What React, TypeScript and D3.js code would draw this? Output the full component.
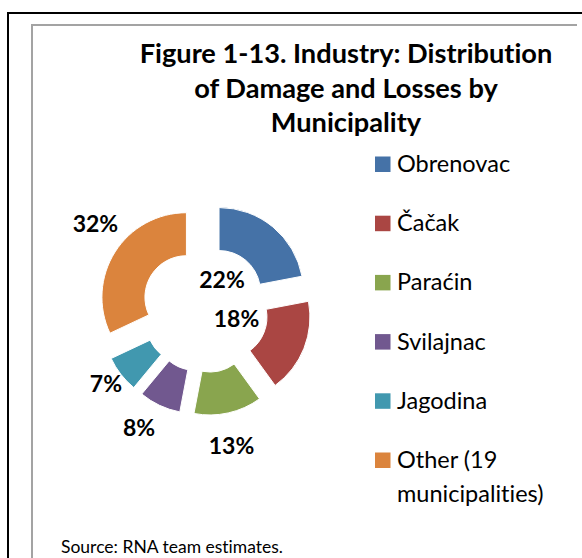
import React from "react";
import * as d3 from "d3";

const categories = ["Obrenovac", "Čačak", "Paraćin", "Svilajnac", "Jagodina", "Other (19 municipalities)"];
const shares = [22, 18, 13, 8, 7, 32];
const percentLabels = ["22%", "18%", "13%", "8%", "7%", "32%"];
const colors = ["#4572A7", "#AA4643", "#89A54E", "#71588F", "#4198AF", "#DB843D"];
const legendLines = [["Obrenovac"], ["Čačak"], ["Paraćin"], ["Svilajnac"], ["Jagodina"], ["Other (19", "municipalities)"]];
const titleLines = ["Figure 1-13. Industry: Distribution", "of Damage and Losses by", "Municipality"];
const sourceText = "Source: RNA team estimates.";

// label placement in polar coords relative to pie centre: [radius, angle deg]
const labelPolar: [number, number][] = [[34, 30], [33, 107], [139, 169], [136, 209], [124, 233], [139, 308]];

const W = 582;
const H = 558;
const FONT = "Lato, 'Open Sans', sans-serif";

export default function App() {
  const cx = 205;
  const cy = 309;
  const outerR = 84.5;
  const innerR = 41.5;
  const explode = 22;

  const pie = d3.pie<number>().sort(null).value((d) => d).startAngle(0).endAngle(2 * Math.PI);
  const arcs = pie(shares);
  const arcGen = d3.arc<d3.PieArcDatum<number>>().innerRadius(innerR).outerRadius(outerR);

  const legendY = d3.scalePoint<number>().domain(d3.range(categories.length)).range([172, 468]);

  return (
    <svg
      width={W}
      height={H}
      style={{ position: "absolute", left: 0, top: 0, background: "#fff", fontVariantLigatures: "none" }}
      fontFamily={FONT}
    >
      <rect x={0} y={0} width={W} height={H} fill="#fff" />
      {/* outer frame */}
      <path d={`M8,${H + 5} L8,13 L${W + 5},13`} fill="none" stroke="#000" strokeWidth={2} />
      {/* inner chart border */}
      <path d={`M32,${H + 5} L32,25 L577,25`} fill="none" stroke="#a3a3a3" strokeWidth={2} />

      {/* title */}
      {titleLines.map((t, i) => (
        <text
          key={i}
          x={346}
          y={63 + i * 34.5}
          textAnchor="middle"
          fontSize={27.2}
          fontWeight="bold"
          fill="#000"
        >
          {t}
        </text>
      ))}

      {/* doughnut */}
      {arcs.map((a, i) => {
        const mid = (a.startAngle + a.endAngle) / 2;
        const dx = explode * Math.sin(mid);
        const dy = -explode * Math.cos(mid);
        return (
          <path
            key={i}
            d={arcGen(a) || ""}
            transform={`translate(${cx + dx},${cy + dy})`}
            fill={colors[i]}
            stroke="#fff"
            strokeWidth={1}
          />
        );
      })}

      {/* data labels */}
      {arcs.map((a, i) => {
        const [r, deg] = labelPolar[i];
        const ang = (deg * Math.PI) / 180;
        const x = cx + r * Math.sin(ang);
        const y = cy - r * Math.cos(ang);
        return (
          <text
            key={i}
            x={x}
            y={y + 8.5}
            textAnchor="middle"
            fontSize={23}
            fontWeight="bold"
            fill="#000"
          >
            {percentLabels[i]}
          </text>
        );
      })}

      {/* legend */}
      {categories.map((c, i) => {
        const by = legendY(i) as number;
        return (
          <g key={c}>
            <rect x={375} y={by - 15.5} width={15.5} height={15.5} fill={colors[i]} />
            {legendLines[i].map((ln, j) => (
              <text key={j} x={397} y={by + j * 33.5} fontSize={23.5} fill="#000">
                {ln}
              </text>
            ))}
          </g>
        );
      })}

      {/* source */}
      <text x={61} y={553} fontSize={17.5} fill="#000">
        {sourceText}
      </text>
    </svg>
  );
}
